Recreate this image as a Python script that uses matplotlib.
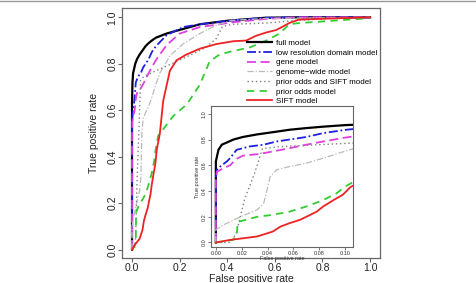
import matplotlib
matplotlib.use("Agg")
import matplotlib.pyplot as plt
from matplotlib.lines import Line2D

plt.rcParams['font.family'] = ['Liberation Sans', 'DejaVu Sans']

# ROC curves (false positive rate, true positive rate)
full_fpr = [0, 0, 0.002, 0.0046, 0.0085, 0.0136, 0.021, 0.032, 0.044, 0.057, 0.07, 0.083, 0.1, 0.145, 0.215, 0.285, 0.40, 0.56, 0.7, 1.0]
full_tpr = [0, 0.63, 0.72, 0.76, 0.777, 0.80, 0.82, 0.84, 0.857, 0.876, 0.889, 0.90, 0.912, 0.93, 0.95, 0.97, 0.985, 0.998, 1.0, 1.0]

lowres_fpr = [0, 0, 0.0008, 0.0033, 0.0085, 0.011, 0.016, 0.026, 0.037, 0.047, 0.057, 0.07, 0.083, 0.1, 0.145, 0.215, 0.285, 0.42, 0.56, 0.7, 1.0]
lowres_tpr = [0, 0.505, 0.565, 0.59, 0.63, 0.655, 0.72, 0.746, 0.76, 0.785, 0.80, 0.82, 0.85, 0.875, 0.923, 0.958, 0.97, 0.987, 0.998, 1.0, 1.0]

gene_fpr = [0, 0, 0.0008, 0.006, 0.011, 0.016, 0.021, 0.032, 0.044, 0.057, 0.07, 0.083, 0.1, 0.145, 0.2, 0.285, 0.42, 0.56, 0.7, 1.0]
gene_tpr = [0, 0.5, 0.55, 0.578, 0.60, 0.65, 0.675, 0.686, 0.707, 0.733, 0.76, 0.785, 0.815, 0.88, 0.93, 0.958, 0.978, 0.993, 1.0, 1.0]

genome_fpr = [0, 0, 0.006, 0.019, 0.032, 0.037, 0.042, 0.047, 0.057, 0.07, 0.083, 0.1, 0.117, 0.16, 0.215, 0.285, 0.354, 0.42, 0.56, 1.0]
genome_tpr = [0, 0.1, 0.137, 0.2, 0.254, 0.305, 0.51, 0.565, 0.59, 0.617, 0.655, 0.71, 0.76, 0.835, 0.886, 0.93, 0.966, 0.987, 0.995, 1.0]

posift_fpr = [0, 0.01, 0.013, 0.016, 0.022, 0.03, 0.036, 0.05, 0.07, 0.1, 0.145, 0.23, 0.31, 0.355, 0.38, 0.42, 0.56, 0.70, 0.84, 1.0]
posift_tpr = [0, 0, 0.02, 0.08, 0.33, 0.54, 0.73, 0.745, 0.755, 0.77, 0.79, 0.83, 0.87, 0.91, 0.96, 0.97, 0.975, 0.987, 0.995, 1.0]

prior_fpr = [0, 0.013, 0.016, 0.017, 0.032, 0.044, 0.057, 0.07, 0.083, 0.093, 0.1, 0.11, 0.173, 0.23, 0.285, 0.326, 0.368, 0.424, 0.494, 0.564, 0.62, 0.66, 0.70, 0.84, 0.98, 1.0]
prior_tpr = [0, 0.02, 0.05, 0.16, 0.2, 0.215, 0.24, 0.28, 0.33, 0.38, 0.435, 0.49, 0.575, 0.625, 0.71, 0.81, 0.84, 0.855, 0.87, 0.9, 0.93, 0.97, 0.975, 0.985, 0.995, 1.0]

sift_fpr = [0, 0.011, 0.032, 0.044, 0.05, 0.057, 0.065, 0.07, 0.078, 0.083, 0.091, 0.098, 0.104, 0.117, 0.131, 0.159, 0.187, 0.229, 0.285, 0.355, 0.425, 0.48, 0.52, 0.565, 0.605, 0.633, 0.66, 0.70, 0.84, 1.0]
sift_tpr = [0, 0.02, 0.047, 0.085, 0.124, 0.15, 0.176, 0.2, 0.24, 0.28, 0.33, 0.37, 0.43, 0.5, 0.64, 0.77, 0.815, 0.84, 0.865, 0.885, 0.897, 0.9, 0.92, 0.935, 0.945, 0.96, 0.975, 0.99, 0.995, 1.0]

labels = ["full model", "low resolution domain model", "gene model", "genome\u2212wide model",
          "prior odds and SIFT model", "prior odds model", "SIFT model"]
main_ticks = [0.0, 0.2, 0.4, 0.6, 0.8, 1.0]
inset_xticks = [0.00, 0.02, 0.04, 0.06, 0.08, 0.10]
inset_yticks = [0.0, 0.2, 0.4, 0.6, 0.8, 1.0]

series = [
    (full_fpr, full_tpr, dict(color='black', lw=1.6, ls='-')),
    (lowres_fpr, lowres_tpr, dict(color='#2020e0', lw=1.3, ls=(0, (5, 1.5, 1, 1.5)))),
    (gene_fpr, gene_tpr, dict(color='#e040e0', lw=1.3, ls=(0, (5, 2.5)))),
    (genome_fpr, genome_tpr, dict(color='#bbbbbb', lw=0.9, ls=(0, (5, 1.5, 1, 1.5)))),
    (posift_fpr, posift_tpr, dict(color='#808080', lw=1.0, ls=(0, (1, 2)))),
    (prior_fpr, prior_tpr, dict(color='#33cc33', lw=1.3, ls=(0, (4, 3)))),
    (sift_fpr, sift_tpr, dict(color='#ee2222', lw=1.3, ls='-')),
]

fig = plt.figure(figsize=(4.77, 2.83), dpi=100)
fig.add_artist(Line2D([0, 1], [0.996, 0.996], color='#999999', lw=1.0, transform=fig.transFigure))

edge = '#666666'
ax = fig.add_axes([0.2558, 0.0883, 0.5409, 0.8834])
for x, y, st in series:
    ax.plot(x, y, **st)
ax.set_xlim(-0.042, 1.042)
ax.set_ylim(-0.036, 1.04)
ax.set_xticks(main_ticks)
ax.set_yticks(main_ticks)
ax.set_xticklabels([f"{t:.1f}" for t in main_ticks], fontsize=7.5, color='#222222')
ax.set_yticklabels([f"{t:.1f}" for t in main_ticks], fontsize=7.5, color='#222222', rotation=90, va='center')
ax.tick_params(length=3, width=0.8, color=edge, pad=0.5)
ax.set_xlabel("False positive rate", fontsize=7.5, color='#222222', labelpad=0.5)
ax.set_ylabel("True positive rate", fontsize=7.5, color='#222222', labelpad=6)
for s in ax.spines.values():
    s.set_color(edge)
    s.set_linewidth(0.9)

handles = [Line2D([], [], **st) for _, _, st in series]
ax.legend(handles, labels, loc='upper left', bbox_to_anchor=(0.485, 0.875), frameon=False,
          fontsize=5.8, handlelength=3.1, handletextpad=0.5, labelspacing=0.26, borderpad=0,
          borderaxespad=0)

ins = fig.add_axes([0.4417, 0.1272, 0.2983, 0.498])
for x, y, st in series:
    ins.plot(x, y, **st)
ins.set_xlim(-0.004, 0.106)
ins.set_ylim(-0.035, 1.06)
ins.set_xticks(inset_xticks)
ins.set_yticks(inset_yticks)
ins.set_xticklabels([f"{t:.2f}" for t in inset_xticks], fontsize=4, color='#333333')
ins.set_yticklabels([f"{t:.1f}" for t in inset_yticks], fontsize=4, color='#333333', rotation=90, va='center')
ins.tick_params(length=2, width=0.6, color=edge, pad=1)
ins.set_xlabel("False positive rate", fontsize=4, color='#333333', labelpad=0)
ins.set_ylabel("True positive rate", fontsize=4, color='#333333', labelpad=1)
for s in ins.spines.values():
    s.set_color(edge)
    s.set_linewidth(0.8)

fig.savefig("out.png", dpi=100)
